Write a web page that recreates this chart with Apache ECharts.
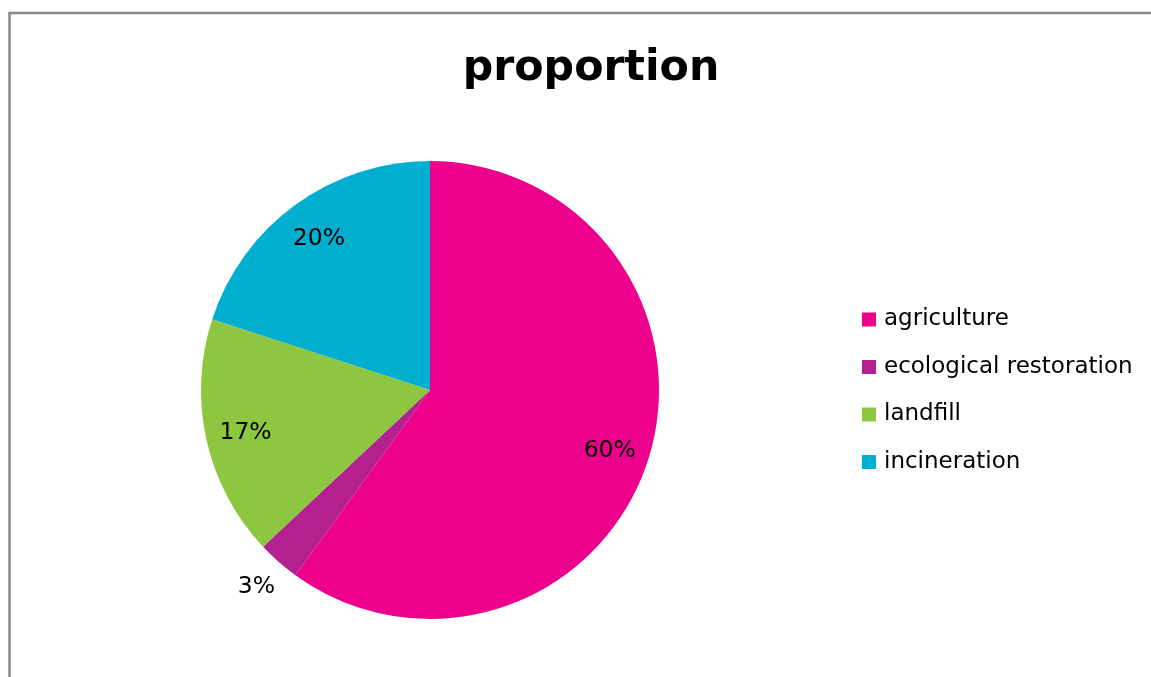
<!DOCTYPE html>
<html><head><meta charset="utf-8">
<script src="https://cdn.jsdelivr.net/npm/echarts@6/dist/echarts.min.js"></script>
<style>html,body{margin:0;padding:0;background:#fff;}#c{width:1151px;height:677px;}</style>
</head><body><div id="c"></div>
<script>
const categories = ['agriculture', 'ecological restoration', 'landfill', 'incineration'];
const values = [60, 3, 17, 20];
const colors = ['#EC008C', '#B4208F', '#8DC63F', '#00AECF'];
const titleText = 'proportion';

const chart = echarts.init(document.getElementById('c'));
const font = 'DejaVu Sans';
const mainData = categories.map((n, i) => ({ name: n, value: values[i], itemStyle: { color: colors[i] } }));
const innerLabelData = categories.map((n, i) => ({
  name: n, value: values[i],
  label: { show: values[i] >= 5 }
}));
const outerLabelData = categories.map((n, i) => ({
  name: n, value: values[i],
  label: { show: values[i] < 5 }
}));
const labelCommon = {
  position: 'inside', formatter: '{d}%', color: '#000',
  fontFamily: font, fontSize: 23.5
};
chart.setOption({
  animation: false,
  backgroundColor: '#fff',
  graphic: [{
    type: 'rect', shape: { x: 9.5, y: 13, width: 1300, height: 800 },
    style: { fill: 'none', stroke: '#888', lineWidth: 2.5 }, silent: true, z: 100
  }],
  title: {
    text: titleText, left: 586, top: 42, textAlign: 'center',
    textStyle: { fontFamily: font, fontWeight: 'bold', fontSize: 42.7, color: '#000' }
  },
  legend: {
    orient: 'vertical', left: 862, top: 307.5, padding: 0,
    itemWidth: 14, itemHeight: 14, itemGap: 23.5,
    icon: 'rect',
    data: categories,
    textStyle: { fontFamily: font, fontSize: 23, color: '#000', lineHeight: 24, padding: [0, 0, 0, 3] }
  },
  series: [
    {
      type: 'pie', center: [430, 390], radius: 229, startAngle: 90, clockwise: true,
      label: { show: false }, labelLine: { show: false },
      data: mainData, emphasis: { disabled: true }, silent: true
    },
    {
      type: 'pie', center: [430, 392], radius: [143, 229], startAngle: 90, clockwise: true,
      itemStyle: { color: 'rgba(0,0,0,0)' }, label: labelCommon, labelLine: { show: false },
      data: innerLabelData, emphasis: { disabled: true }, silent: true, legendHoverLink: false
    },
    {
      type: 'pie', center: [430, 390], radius: [229, 290], startAngle: 90, clockwise: true,
      itemStyle: { color: 'rgba(0,0,0,0)' }, label: labelCommon, labelLine: { show: false },
      data: outerLabelData, emphasis: { disabled: true }, silent: true, legendHoverLink: false
    }
  ]
});
</script></body></html>
